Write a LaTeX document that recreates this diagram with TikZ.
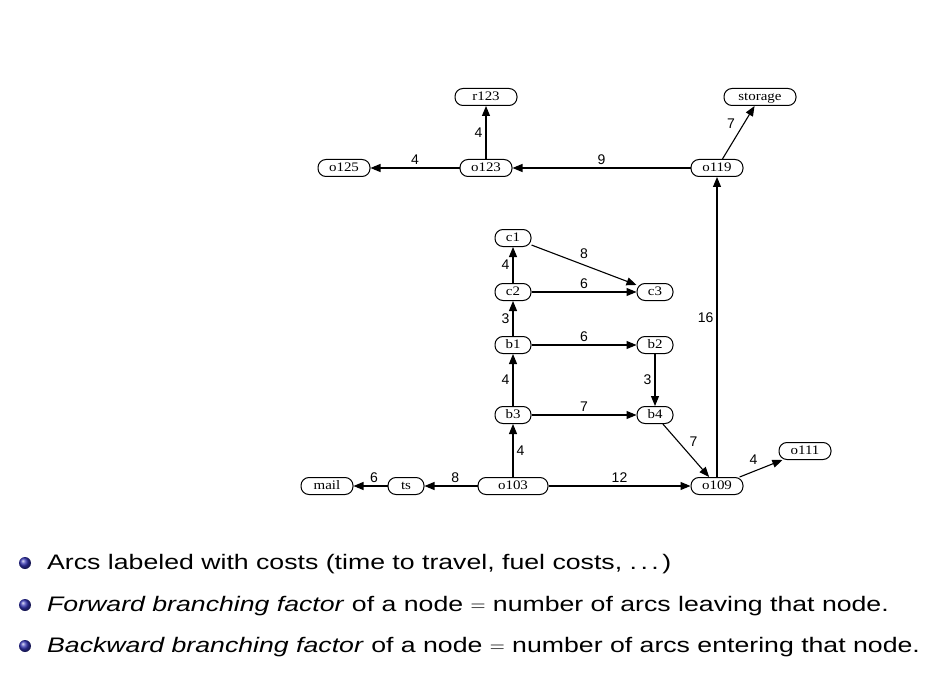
\documentclass[tikz,border=0pt]{standalone}
\usepackage{fontspec}
\setmainfont{Liberation Serif}
\setsansfont{Liberation Sans}
\newfontfamily\placefont[FakeStretch=1.15]{Liberation Serif}
\newfontfamily\itemfont[FakeStretch=1.27]{Liberation Sans}
\usetikzlibrary{arrows.meta}
\definecolor{ballblue}{RGB}{51,51,179}
\tikzset{
  place/.style={draw, line width=1pt, rounded corners=8pt, minimum height=17pt,
    minimum width=#1, inner sep=0pt, text height=9pt, text depth=2.5pt,
    font=\placefont\fontsize{13}{13}\selectfont},
  place/.default=52pt,
  cost/.style={font=\sffamily\fontsize{14}{14}\selectfont, inner sep=3pt},
  arc/.style={-{Triangle[length=10pt,width=8pt]}, line width=1.1pt},
  item/.style={anchor=west, inner sep=0pt, font=\itemfont\fontsize{21}{21}\selectfont},
}
\begin{document}
\begin{tikzpicture}[x=1pt,y=-1pt]
  \useasboundingbox (0,0) rectangle (943,682);
  % places
  \node[place=62pt] (r123) at (486,97) {r123};
  \node[place=72pt] (storage) at (760,97) {storage};
  \node[place] (o125) at (344,168) {o125};
  \node[place] (o123) at (486,168) {o123};
  \node[place] (o119) at (717,168) {o119};
  \node[place=36pt] (c1) at (513,238) {c1};
  \node[place=36pt] (c2) at (513,292) {c2};
  \node[place=36pt] (c3) at (655,292) {c3};
  \node[place=36pt] (b1) at (513,345) {b1};
  \node[place=36pt] (b2) at (655,345) {b2};
  \node[place=36pt] (b3) at (513,415) {b3};
  \node[place=36pt] (b4) at (655,415) {b4};
  \node[place=70pt] (o103) at (513,486) {o103};
  \node[place=36pt] (ts) at (406,486) {ts};
  \node[place] (mail) at (327,486) {mail};
  \node[place] (o109) at (717,486) {o109};
  \node[place] (o111) at (805,451) {o111};
  % arcs with costs
  \begin{scope}[arc]
    \draw (o123) to node[cost,left] {4} (r123);
    \draw (o123) to node[cost,above] {4} (o125);
    \draw (o119) to node[cost,above] {9} (o123);
    \draw (o119) to node[cost,above left] {7} (storage);
    \draw (c2) to node[cost,left] {4} (c1);
    \draw (c1) to node[cost,above=3pt] {8} (c3);
    \draw (c2) to node[cost,above] {6} (c3);
    \draw (b1) to node[cost,left] {3} (c2);
    \draw (b1) to node[cost,above] {6} (b2);
    \draw (b3) to node[cost,left] {4} (b1);
    \draw (b2) to node[cost,left] {3} (b4);
    \draw (b3) to node[cost,above] {7} (b4);
    \draw (b4) to node[cost,above right] {7} (o109);
    \draw (o103) to node[cost,right] {4} (b3);
    \draw (o103) to node[cost,above,pos=0.42] {8} (ts);
    \draw (ts) to node[cost,above,pos=0.4] {6} (mail);
    \draw (o103) to node[cost,above] {12} (o109);
    \draw (o109) to node[cost,left,pos=0.53] {16} (o119);
    \draw (o109) to node[cost,above left] {4} (o111);
  \end{scope}
  % bullet items
  \foreach \y in {563,605,646}
    \shade[ball color=ballblue] (25,\y) circle (6pt);
  \node[item] (i1) at (47,564) {Arcs labeled with costs (time to travel, fuel costs, .\,.\,.\,)};
  \node[item] (i2) at (47,606) {\textit{Forward branching factor} of a node $=$ number of arcs leaving that node.};
  \node[item] (i3) at (47,647) {\textit{Backward branching factor} of a node $=$ number of arcs entering that node.};
\end{tikzpicture}
\end{document}
